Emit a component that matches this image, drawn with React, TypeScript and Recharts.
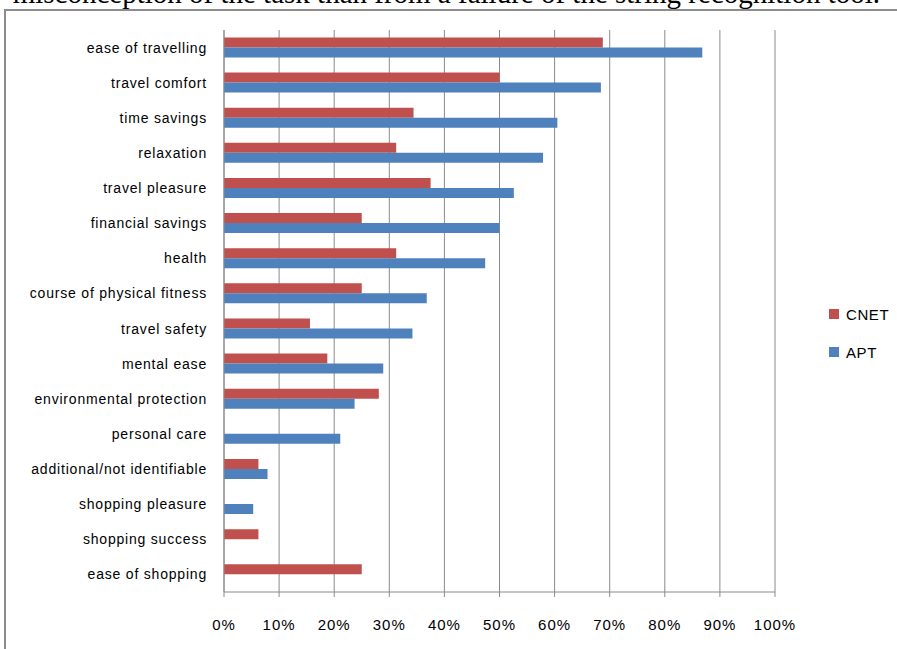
import React from 'react';
import { BarChart, Bar, XAxis, YAxis, CartesianGrid, Legend } from 'recharts';

const categories = [
  'ease of travelling',
  'travel comfort',
  'time savings',
  'relaxation',
  'travel pleasure',
  'financial savings',
  'health',
  'course of physical fitness',
  'travel safety',
  'mental ease',
  'environmental protection',
  'personal care',
  'additional/not identifiable',
  'shopping pleasure',
  'shopping success',
  'ease of shopping',
];

const cnetValues = [68.75, 50, 34.4, 31.25, 37.5, 25, 31.25, 25, 15.6, 18.75, 28.1, 0, 6.25, 0, 6.25, 25];
const aptValues = [86.8, 68.4, 60.5, 57.9, 52.6, 50, 47.4, 36.8, 34.2, 28.9, 23.7, 21.1, 7.9, 5.3, 0, 0];

const xTicks = [0, 10, 20, 30, 40, 50, 60, 70, 80, 90, 100];
const edgeTicks = [0, 1, 2, 3, 4, 5, 6, 7, 8, 9, 10, 11, 12, 13, 14, 15, 16];

const RED = '#C0504D';
const BLUE = '#4F81BD';
const GRID = '#8a8a8a';
const SANS = '"Liberation Sans", Arial, sans-serif';

const data = categories.map((name, i) => ({ name, CNET: cnetValues[i], APT: aptValues[i] }));

const LegendBox = () => {
  const items = [
    { label: 'CNET', color: RED },
    { label: 'APT', color: BLUE },
  ];
  return (
    <div style={{ width: 70, fontFamily: SANS, fontSize: 15, letterSpacing: 0.6, color: '#000', whiteSpace: 'nowrap' }}>
      {items.map((it) => (
        <div key={it.label} style={{ display: 'flex', alignItems: 'center', height: 38 }}>
          <span
            style={{ display: 'inline-block', flexShrink: 0, width: 10, height: 10, background: it.color, marginRight: 7 }}
          />
          <span>{it.label}</span>
        </div>
      ))}
    </div>
  );
};

export default function App() {
  return (
    <div style={{ position: 'absolute', left: 0, top: 0, width: 897, height: 649, overflow: 'hidden', background: '#fff' }}>
      <div
        style={{
          position: 'absolute',
          right: 17,
          top: -21,
          fontFamily: '"Liberation Serif", "Times New Roman", serif',
          fontSize: 29,
          lineHeight: '29px',
          whiteSpace: 'nowrap',
          color: '#000',
        }}
      >
        misconception of the task than from a failure of the string recognition tool.
      </div>
      <div
        style={{
          position: 'absolute',
          left: 4,
          top: 9,
          width: 940,
          height: 700,
          border: '2px solid #8c8c8c',
        }}
      />
      <div style={{ position: 'absolute', left: 0, top: 0 }}>
        <BarChart
          width={897}
          height={649}
          data={data}
          layout="vertical"
          margin={{ top: 30, right: 122, bottom: 0, left: 0 }}
          barCategoryGap="21%"
          barGap={0}
        >
          <CartesianGrid horizontal={false} stroke={GRID} />
          <XAxis
            type="number"
            domain={[0, 100]}
            ticks={xTicks}
            tickFormatter={(v) => `${v}%`}
            height={57}
            tickSize={5}
            tickMargin={22}
            axisLine={{ stroke: GRID }}
            tickLine={{ stroke: GRID }}
            tick={{ fill: '#000', fontSize: 15, fontFamily: SANS, letterSpacing: 1 }}
          />
          <YAxis
            yAxisId="edge"
            type="number"
            domain={[0, 16]}
            ticks={edgeTicks}
            width={0}
            tick={false}
            tickSize={5}
            axisLine={false}
            tickLine={{ stroke: GRID }}
            allowDataOverflow
          />
          <YAxis
            yAxisId="cat"
            type="category"
            dataKey="name"
            width={224}
            tickLine={false}
            tickSize={0}
            tickMargin={17}
            axisLine={{ stroke: GRID }}
            interval={0}
            tick={{ fill: '#000', fontSize: 14, fontFamily: SANS, letterSpacing: 0.8 }}
          />
          <Legend
            content={() => <LegendBox />}
            wrapperStyle={{ left: 829, top: 295, width: 0, height: 0, overflow: 'visible' }}
          />
          <Bar yAxisId="cat" dataKey="CNET" fill={RED} isAnimationActive={false} />
          <Bar yAxisId="cat" dataKey="APT" fill={BLUE} isAnimationActive={false} />
        </BarChart>
      </div>
    </div>
  );
}
